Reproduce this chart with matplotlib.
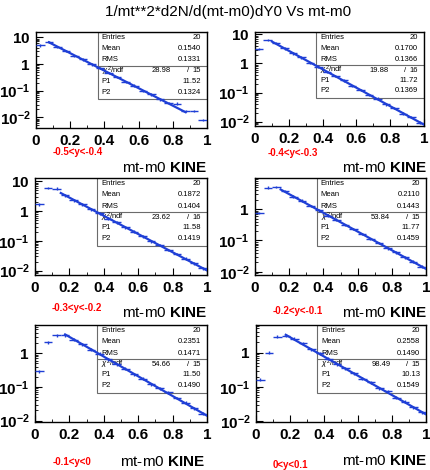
import numpy as np
import matplotlib
matplotlib.use("Agg")
import matplotlib.pyplot as plt
from matplotlib.patches import Rectangle
from matplotlib.ticker import FuncFormatter, MultipleLocator, LogLocator

# histogram binning (20 bins in mt-m0)
bin_edges = [0.00, 0.05, 0.10, 0.15, 0.20, 0.25, 0.30, 0.35, 0.40, 0.45, 0.50,
             0.55, 0.60, 0.65, 0.70, 0.75, 0.80, 0.85, 0.90, 0.95, 1.00]

y_bins = ["-0.5<y<-0.4", "-0.4<y<-0.3", "-0.3<y<-0.2",
          "-0.2<y<-0.1", "-0.1<y<0", "0<y<0.1"]

# bin contents, one list per rapidity slice
h_m05 = [5.0, 6.8, 4.4, 3.1, 2.0, 1.5, 0.97, 0.70, 0.45, 0.33,
         0.21, 0.155, 0.100, 0.072, 0.047, 0.034, 0.033, 0.017, 0.017, 0.0080]
h_m04 = [3.1, 6.3, 5.0, 3.3, 2.2, 1.6, 1.05, 0.78, 0.51, 0.37,
         0.26, 0.17, 0.125, 0.083, 0.062, 0.039, 0.030, 0.019, 0.0145, 0.0092]
h_m03 = [1.7, 6.0, 5.7, 3.4, 2.3, 1.7, 1.15, 0.83, 0.56, 0.42,
         0.28, 0.205, 0.14, 0.095, 0.072, 0.050, 0.036, 0.025, 0.0175, 0.0118]
h_m02 = [0.75, 4.8, 5.1, 3.8, 2.5, 1.85, 1.25, 0.92, 0.62, 0.46,
         0.31, 0.235, 0.16, 0.112, 0.083, 0.057, 0.042, 0.029, 0.021, 0.0145]
h_m01 = [0.29, 2.1, 3.4, 3.4, 2.5, 1.85, 1.27, 0.95, 0.65, 0.47,
         0.34, 0.24, 0.175, 0.12, 0.09, 0.070, 0.047, 0.034, 0.023, 0.0162]
h_p00 = [0.16, 1.0, 2.9, 3.1, 2.5, 1.85, 1.25, 0.95, 0.66, 0.45,
         0.35, 0.25, 0.175, 0.135, 0.092, 0.075, 0.048, 0.037, 0.026, 0.0185]
hists = [h_m05, h_m04, h_m03, h_m02, h_m01, h_p00]

# stats box contents
entries = [20, 20, 20, 20, 20, 20]
means = ["0.1540", "0.1700", "0.1872", "0.2110", "0.2351", "0.2558"]
rms = ["0.1331", "0.1366", "0.1404", "0.1443", "0.1471", "0.1490"]
chi2 = ["28.98", "19.88", "23.62", "53.84", "54.66", "98.49"]
ndf = [15, 16, 16, 15, 15, 15]
p1 = [11.52, 11.72, 11.58, 11.77, 11.50, 10.13]
p2 = [0.1324, 0.1369, 0.1419, 0.1459, 0.1490, 0.1549]
fit_lo = [0.075, 0.10, 0.15, 0.15, 0.175, 0.175]
fit_hi = [0.875, 1.00, 1.00, 1.00, 1.00, 1.00]

title = "1/mt**2*d2N/d(mt-m0)dY0 Vs mt-m0"
xtitle = r"mt-m0 $\mathbf{KINE}$"

plt.rcParams['font.family'] = ['Liberation Sans', 'DejaVu Sans']
plt.rcParams['mathtext.fontset'] = 'custom'
plt.rcParams['mathtext.rm'] = 'Liberation Sans'
plt.rcParams['mathtext.it'] = 'Liberation Sans:italic'
plt.rcParams['mathtext.bf'] = 'Liberation Sans:bold'

W, H = 430.0, 470.0
# frame boxes in pixels: left, top, right, bottom
frames = [(36, 32, 207, 128), (255, 32, 424, 126),
          (35, 178, 207, 275), (255, 178, 426, 275),
          (35, 325, 207, 422), (256, 325, 426, 422)]
ylog = [(-2.4, 1.2), (-2.15, 1.08), (-2.15, 1.11),
        (-2.1, 0.99), (-2.04, 0.83), (-2.02, 0.80)]
red_pos = [(78, 152), (293, 153), (77, 308), (298, 311), (72, 462), (290, 465)]
title_pos = [(207, 168), (427, 168), (207, 313), (427, 313), (205, 462), (427, 461)]

blue = "#1f3fd6"


def ylab(v, pos):
    e = int(round(np.log10(v)))
    if e == 1:
        return r"$\mathbf{10}$"
    if e == 0:
        return r"$\mathbf{1}$"
    return r"$\mathbf{10^{%d}}$" % e


def xlab(v, pos):
    return "%g" % round(v, 2)


fig = plt.figure(figsize=(4.3, 4.7), dpi=100)
fig.text(228 / W, 1 - 12 / H, title, ha="center", va="center", fontsize=11)

lo_edges = bin_edges[:-1]
hi_edges = bin_edges[1:]
centers = [(a + b) / 2 for a, b in zip(lo_edges, hi_edges)]

for i in range(6):
    l, t, r, b = frames[i]
    ax = fig.add_axes([l / W, 1 - b / H, (r - l) / W, (b - t) / H])
    ax.set_yscale("log")
    ax.set_xlim(0, 1)
    ax.set_ylim(10 ** ylog[i][0], 10 ** ylog[i][1])

    vals = hists[i]
    # histogram with errors
    ax.errorbar(centers, vals, xerr=0.025, yerr=[v * 0.1 for v in vals],
                fmt="none", ecolor=blue, elinewidth=1.0, capsize=0, zorder=4)
    # exponential fit
    fx = [fit_lo[i], fit_hi[i]]
    fy = [p1[i] * np.exp(-x / p2[i]) for x in fx]
    ax.plot(fx, fy, color=blue, lw=1.6, zorder=5)

    # stats box
    bx, by = 0.36, 0.30
    ax.add_patch(Rectangle((bx, by), 1 - bx, 1 - by, transform=ax.transAxes,
                           facecolor="white", edgecolor="#6b6b6b", lw=0.8, zorder=2))
    ax.plot([bx, 1], [0.65, 0.65], transform=ax.transAxes, color="#6b6b6b", lw=0.8, zorder=2)
    fs = 5.5
    rows = [("Entries", str(entries[i]), 0.945), ("Mean", means[i], 0.825),
            ("RMS", rms[i], 0.71)]
    for name, val, yy in rows:
        ax.text(bx + 0.025, yy, name, transform=ax.transAxes, fontsize=fs, va="center", zorder=3)
        ax.text(0.965, yy, val, transform=ax.transAxes, fontsize=fs, va="center", ha="right", zorder=3)
    ax.text(bx + 0.025, 0.595, r"$\chi^{2}$/ndf", transform=ax.transAxes, fontsize=fs,
            va="center", zorder=3)
    ax.text(0.79, 0.595, chi2[i], transform=ax.transAxes, fontsize=fs, va="center", ha="right", zorder=3)
    ax.text(0.89, 0.595, "/", transform=ax.transAxes, fontsize=fs, va="center", ha="center", zorder=3)
    ax.text(0.965, 0.595, str(ndf[i]), transform=ax.transAxes, fontsize=fs, va="center", ha="right", zorder=3)
    ax.text(bx + 0.025, 0.485, "P1", transform=ax.transAxes, fontsize=fs, va="center", zorder=3)
    ax.text(0.965, 0.485, "%.2f" % p1[i], transform=ax.transAxes, fontsize=fs, va="center", ha="right", zorder=3)
    ax.text(bx + 0.025, 0.375, "P2", transform=ax.transAxes, fontsize=fs, va="center", zorder=3)
    ax.text(0.965, 0.375, "%.4f" % p2[i], transform=ax.transAxes, fontsize=fs, va="center", ha="right", zorder=3)

    # axes look (ROOT style)
    ax.xaxis.set_major_locator(MultipleLocator(0.2))
    ax.xaxis.set_minor_locator(MultipleLocator(0.1))
    ax.xaxis.set_major_formatter(FuncFormatter(xlab))
    ax.yaxis.set_major_locator(LogLocator(base=10, numticks=20))
    ax.yaxis.set_minor_locator(LogLocator(base=10, subs=np.arange(2, 10) * 1.0, numticks=20))
    ax.yaxis.set_major_formatter(FuncFormatter(ylab))
    ax.yaxis.set_minor_formatter(FuncFormatter(lambda v, p: ""))
    ax.tick_params(which="both", direction="in", top=False, right=False)
    ax.tick_params(which="major", length=5, width=0.8, labelsize=11, pad=4)
    ax.tick_params(which="minor", length=2.5, width=0.6)
    for lab in ax.get_xticklabels():
        lab.set_fontweight("bold")
    for sp in ax.spines.values():
        sp.set_linewidth(1.0)

    fig.text(red_pos[i][0] / W, 1 - red_pos[i][1] / H, y_bins[i], color="red",
             fontsize=7, fontweight="bold", ha="center", va="center")
    fig.text(title_pos[i][0] / W, 1 - title_pos[i][1] / H, xtitle, fontsize=11,
             ha="right", va="center")

fig.savefig("out.png", dpi=100)
